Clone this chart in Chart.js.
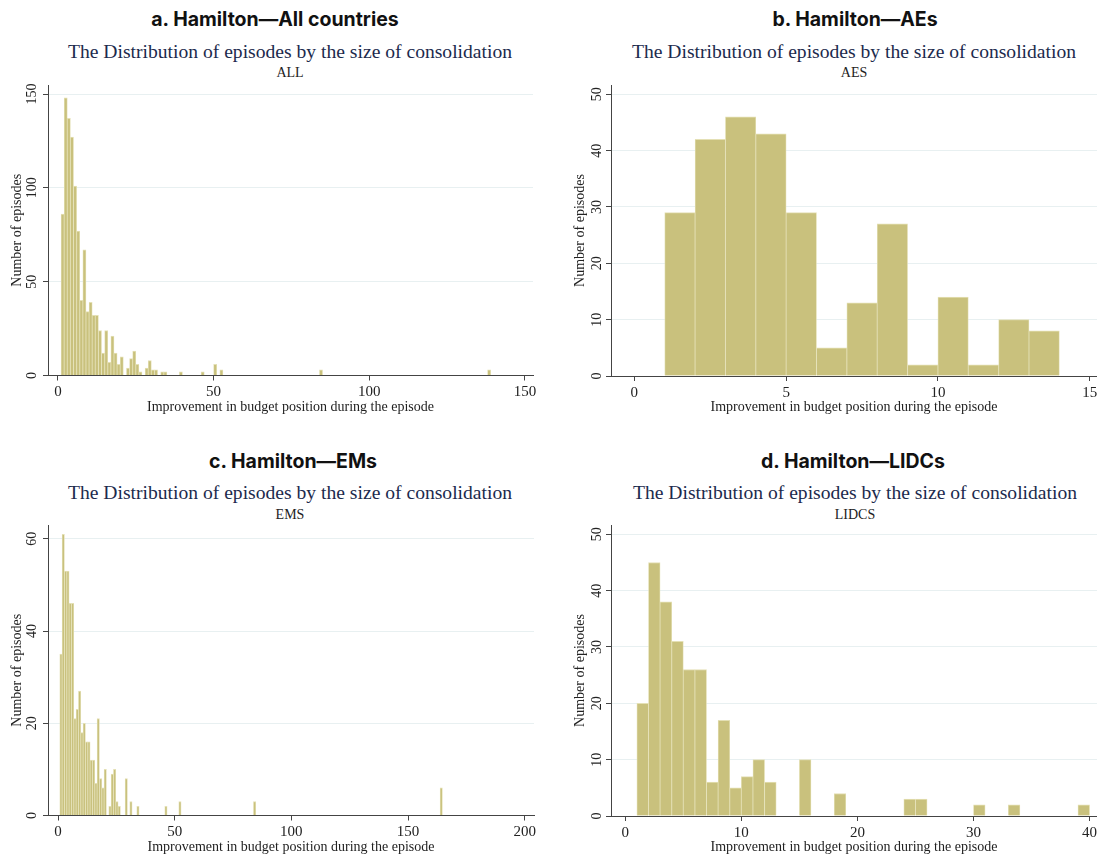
<!DOCTYPE html>
<html>
<head>
<meta charset="utf-8">
<script src="https://cdn.jsdelivr.net/npm/chart.js@4.4.1/dist/chart.umd.min.js"></script>
<style>
  body { margin: 0; width: 1097px; height: 855px; background: #fff; position: relative; overflow: hidden; }
  .txt { position: absolute; transform: translate(-50%, -50%); white-space: nowrap; line-height: 1; }
  .head { font-family: Inter, Lato, sans-serif; font-weight: 700; font-size: 19.5px; color: #111; }
  .sub { font-family: "Liberation Serif", serif; font-size: 19.6px; color: #1c2a4d; }
  .grp { font-family: "Liberation Serif", serif; font-size: 14px; color: #222; }
  canvas { position: absolute; }
</style>
</head>
<body>
<div class="txt head" style="left:275px; top:20px">a. Hamilton—All countries</div>
<div class="txt sub" style="left:290px; top:52px">The Distribution of episodes by the size of consolidation</div>
<div class="txt grp" style="left:290px; top:73px">ALL</div>
<div class="txt head" style="left:855px; top:20px">b. Hamilton—AEs</div>
<div class="txt sub" style="left:854px; top:52px">The Distribution of episodes by the size of consolidation</div>
<div class="txt grp" style="left:854px; top:73px">AES</div>
<div class="txt head" style="left:293px; top:462px">c. Hamilton—EMs</div>
<div class="txt sub" style="left:290px; top:493px">The Distribution of episodes by the size of consolidation</div>
<div class="txt grp" style="left:290px; top:515px">EMS</div>
<div class="txt head" style="left:853px; top:462px">d. Hamilton—LIDCs</div>
<div class="txt sub" style="left:855px; top:493px">The Distribution of episodes by the size of consolidation</div>
<div class="txt grp" style="left:855px; top:515px">LIDCS</div>

<canvas id="all" width="545" height="340" style="left:0; top:80px"></canvas>
<canvas id="aes" width="534" height="340" style="left:563px; top:80px"></canvas>
<canvas id="ems" width="545" height="340" style="left:0; top:520px"></canvas>
<canvas id="lidcs" width="534" height="340" style="left:563px; top:520px"></canvas>

<script>
// lower edge of each bin (width 1) and its count of episodes
const allBins = [1, 2, 3, 4, 5, 6, 7, 8, 9, 10, 11, 12, 13, 14, 15, 16, 17, 18, 19, 20,
                 22, 23, 24, 25, 26, 28, 29, 30, 31, 33, 34, 39, 46, 50, 52, 84, 138];
const allCounts = [86, 148, 137, 127, 101, 77, 40, 67, 34, 39, 32, 32, 24, 12, 24, 7, 21, 12, 6, 10,
                   4, 9, 13, 6, 2, 4, 8, 3, 3, 2, 2, 2, 2, 6, 3, 3, 3];

const aesBins = [1, 2, 3, 4, 5, 6, 7, 8, 9, 10, 11, 12, 13];
const aesCounts = [29, 42, 46, 43, 29, 5, 13, 27, 2, 14, 2, 10, 8];

// EM bins start a quarter unit below the integers
const emsBins = [1, 2, 3, 4, 5, 6, 7, 8, 9, 10, 11, 12, 13, 14, 15, 16, 17, 18, 19, 20,
                 22, 23, 24, 25, 26, 29, 31, 34, 46, 52, 84, 164];
const emsCounts = [35, 61, 53, 53, 46, 46, 21, 23, 27, 18, 20, 16, 16, 12, 12, 7, 21, 8, 6, 10,
                   2, 9, 10, 3, 2, 8, 3, 2, 2, 3, 3, 6];

const lidcsBins = [1, 2, 3, 4, 5, 6, 7, 8, 9, 10, 11, 12, 15, 18, 24, 25, 30, 33, 39];
const lidcsCounts = [20, 45, 38, 31, 26, 26, 6, 17, 5, 7, 10, 6, 10, 4, 3, 3, 2, 2, 2];

const allXTicks = [0, 50, 100, 150];
const allYTicks = [0, 50, 100, 150];
const aesXTicks = [0, 5, 10, 15];
const aesYTicks = [0, 10, 20, 30, 40, 50];
const emsXTicks = [0, 50, 100, 150, 200];
const emsYTicks = [0, 20, 40, 60];
const lidcsXTicks = [0, 10, 20, 30, 40];
const lidcsYTicks = [0, 10, 20, 30, 40, 50];

const X_TITLE = "Improvement in budget position during the episode";
const Y_TITLE = "Number of episodes";

const BAR_FILL = "#c9c17d";
const BAR_EDGE = "#e4e0b5";
const INK = "#222";
const SERIF = "'Liberation Serif', serif";

function histogram(id, bins, counts, p) {
    const shift = p.shift || 0;
    const points = bins.map((b, i) => ({ x: b + shift + 0.5, y: counts[i] }));
    return new Chart(document.getElementById(id), {
        type: "bar",
        data: {
            datasets: [{
                data: points,
                backgroundColor: BAR_FILL,
                borderColor: BAR_EDGE,
                borderWidth: { top: 1, left: 0.8, right: 0.8, bottom: 0 },
                barPercentage: 1,
                categoryPercentage: 1
            }]
        },
        options: {
            responsive: false,
            animation: false,
            events: [],
            layout: { padding: { top: 5, right: p.right, left: 0, bottom: 0 } },
            plugins: { legend: { display: false }, tooltip: { enabled: false } },
            scales: {
                x: {
                    type: "linear",
                    offset: false,
                    min: p.xMin,
                    max: p.xMax,
                    afterBuildTicks: s => { s.ticks = p.xTicks.map(v => ({ value: v })); },
                    afterFit: s => { s.height = p.xHeight; s.paddingLeft = 0; s.paddingRight = 0; },
                    grid: { offset: false, drawOnChartArea: false, tickLength: 5, tickColor: "#444" },
                    border: { color: "#444", width: 1 },
                    ticks: { color: INK, font: { family: SERIF, size: 15 }, padding: 3, maxRotation: 0, autoSkip: false },
                    title: { display: true, text: X_TITLE, color: INK,
                             font: { family: SERIF, size: 14, lineHeight: 1 }, padding: { top: 0, bottom: 6 } }
                },
                y: {
                    min: 0,
                    max: p.yMax,
                    afterBuildTicks: s => { s.ticks = p.yTicks.map(v => ({ value: v })); },
                    afterFit: s => { s.width = 48; s.paddingTop = 0; s.paddingBottom = 0; },
                    grid: { color: "#e8f0f1", tickLength: 5, tickColor: "#444" },
                    border: { color: "#444", width: 1 },
                    ticks: { color: INK, font: { family: SERIF, size: 14 }, minRotation: 90, maxRotation: 90,
                             crossAlign: "center", padding: p.yPad },
                    title: { display: true, text: Y_TITLE, color: INK,
                             font: { family: SERIF, size: 14, lineHeight: 1 }, padding: { top: 10, bottom: 0 } }
                }
            }
        }
    });
}

histogram("all", allBins, allCounts, {
    xMin: -3.2, xMax: 152.6, yMax: 154.8, xTicks: allXTicks, yTicks: allYTicks,
    right: 12, xHeight: 44.5, yPad: 0.5
});
histogram("aes", aesBins, aesCounts, {
    xMin: -0.77, xMax: 15.24, yMax: 51.65, xTicks: aesXTicks, yTicks: aesYTicks,
    right: 0, xHeight: 44, yPad: 2
});
histogram("ems", emsBins, emsCounts, {
    shift: -0.25, xMin: -4.3, xMax: 204, yMax: 63, xTicks: emsXTicks, yTicks: emsYTicks,
    right: 11, xHeight: 44.5, yPad: 4
});
histogram("lidcs", lidcsBins, lidcsCounts, {
    xMin: -1.23, xMax: 40.64, yMax: 51.65, xTicks: lidcsXTicks, yTicks: lidcsYTicks,
    right: 0, xHeight: 44, yPad: 2
});
</script>
</body>
</html>
